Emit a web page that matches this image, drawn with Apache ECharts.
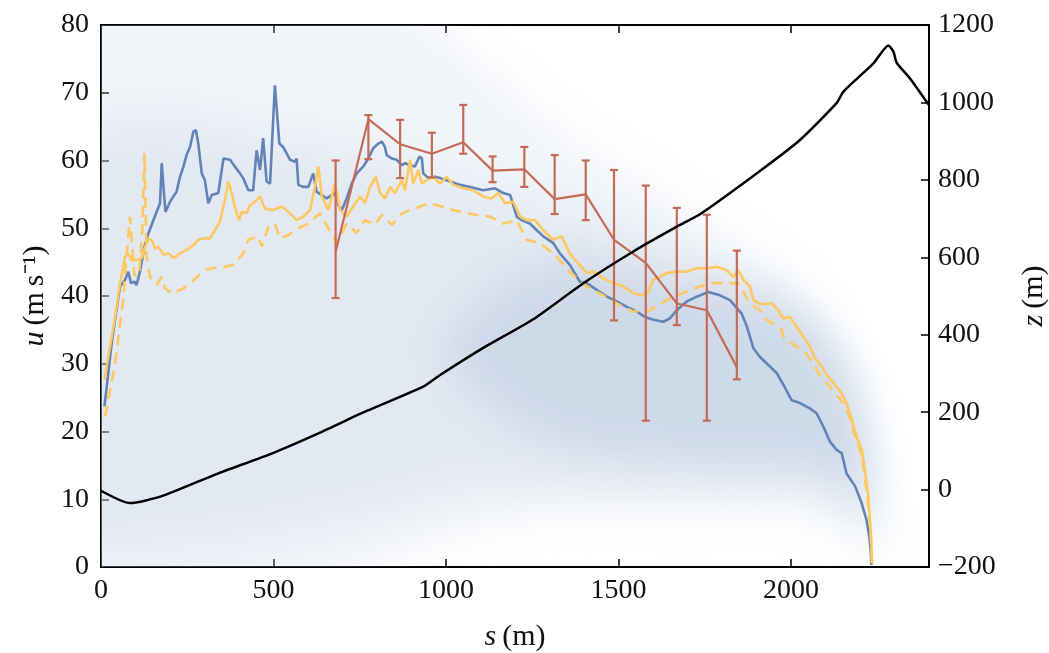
<!DOCTYPE html>
<html>
<head>
<meta charset="utf-8">
<script src="https://cdn.jsdelivr.net/npm/echarts@6/dist/echarts.min.js"></script>
<style>
  html, body { margin: 0; padding: 0; background: #fff; }
  #chart { width: 1049px; height: 653px; }
</style>
</head>
<body>
<div id="chart"></div>
<script>
// speed along the path, u (m/s) : [s, u]
const blueLine = [[10,23.7],[31,33.0],[55,41.4],[70,42.4],[79,43.6],[87,41.9],[97,42.1],[103,41.6],[113,43.6],[126,47.3],[137,49.2],[161,52.4],[171,53.7],[176,59.6],[181,56.1],[187,52.4],[200,53.9],[210,54.7],[219,55.4],[229,57.6],[239,59.1],[248,60.8],[258,62.0],[268,64.3],[275,64.5],[282,62.5],[292,58.1],[301,57.1],[311,53.7],[321,54.9],[340,55.2],[355,60.3],[374,60.1],[388,59.1],[403,58.1],[412,57.4],[427,55.6],[441,55.6],[451,61.5],[461,58.6],[470,63.3],[480,56.9],[490,56.6],[504,71.1],[509,70.9],[517,62.5],[528,62.0],[548,60.1],[562,59.8],[567,60.3],[572,56.4],[586,56.1],[601,56.1],[615,58.1],[625,55.4],[640,54.9],[654,54.4],[669,54.9],[678,55.2],[688,53.4],[698,52.7],[712,54.4],[727,56.6],[741,58.1],[760,59.1],[775,60.3],[789,61.8],[804,62.5],[814,62.8],[823,62.0],[828,60.8],[843,60.3],[857,60.1],[872,59.3],[881,59.6],[896,59.3],[910,59.1],[923,60.6],[930,60.3],[934,58.1],[949,57.4],[968,57.6],[983,57.4],[1012,56.9],[1041,56.4],[1070,56.1],[1108,55.6],[1142,55.9],[1166,55.2],[1186,54.9],[1195,53.4],[1205,51.7],[1219,51.2],[1243,50.7],[1263,49.7],[1282,48.8],[1311,47.8],[1330,46.3],[1359,44.6],[1388,42.1],[1408,41.9],[1437,40.9],[1466,39.9],[1495,39.2],[1524,38.4],[1553,37.7],[1577,36.9],[1601,36.5],[1630,36.2],[1649,36.7],[1669,37.9],[1698,39.2],[1727,39.9],[1760,40.6],[1794,40.1],[1823,39.4],[1843,38.2],[1857,37.4],[1872,35.5],[1891,32.3],[1910,31.0],[1939,29.6],[1959,28.6],[1978,26.9],[2002,24.6],[2026,24.2],[2055,23.4],[2074,22.7],[2094,20.7],[2113,18.5],[2132,17.3],[2147,16.8],[2161,13.8],[2186,11.9],[2205,9.4],[2219,6.9],[2227,4.5],[2231,2.5],[2233,0.3]];

const yellowLine = [[10,27.6],[21,31.0],[41,36.9],[55,41.9],[70,45.8],[79,46.3],[89,45.3],[103,45.3],[118,45.6],[128,47.3],[137,48.3],[147,48.3],[157,47.0],[166,47.3],[181,46.1],[195,46.3],[212,45.6],[229,46.3],[248,46.8],[268,47.5],[282,48.3],[297,48.5],[316,48.5],[330,49.7],[345,51.0],[359,54.2],[369,56.9],[379,55.2],[388,53.2],[400,51.2],[408,52.4],[422,52.2],[432,53.4],[446,53.9],[461,54.7],[475,52.9],[499,52.7],[524,53.2],[548,52.2],[567,51.2],[586,51.7],[606,52.7],[620,56.1],[630,59.1],[640,54.7],[659,52.7],[678,56.6],[693,52.7],[712,51.7],[731,53.2],[751,54.7],[765,53.7],[780,56.1],[797,57.6],[809,55.2],[823,54.4],[838,56.1],[852,55.2],[872,57.1],[881,55.6],[896,60.1],[905,56.6],[920,58.6],[930,56.6],[944,57.1],[963,57.6],[983,56.6],[1002,57.6],[1021,56.4],[1050,55.9],[1079,55.6],[1108,54.7],[1132,54.4],[1152,55.2],[1171,53.7],[1195,53.9],[1215,51.7],[1234,51.2],[1258,51.2],[1282,49.7],[1311,48.3],[1335,48.8],[1359,46.3],[1383,44.8],[1408,43.4],[1427,43.6],[1456,42.6],[1485,41.9],[1514,41.4],[1543,40.4],[1567,40.1],[1586,40.6],[1601,42.4],[1620,42.8],[1640,43.4],[1669,43.6],[1698,43.6],[1727,44.1],[1756,44.1],[1785,44.3],[1814,43.8],[1833,42.8],[1847,43.8],[1862,42.4],[1881,41.4],[1891,39.4],[1910,38.8],[1944,38.9],[1963,37.9],[1978,36.7],[1997,36.9],[2016,35.5],[2036,34.0],[2055,32.5],[2070,30.8],[2089,29.6],[2108,28.1],[2128,26.9],[2147,25.6],[2161,24.2],[2176,21.7],[2190,19.2],[2205,17.3],[2214,14.3],[2224,10.4],[2231,5.5],[2235,0.5]];

const yellowDashed = [[12,22.2],[41,30.1],[65,39.9],[74,45.8],[84,51.7],[97,43.0],[110,43.0],[120,50.0],[126,61.1],[132,45.8],[142,42.8],[161,41.6],[176,42.8],[186,41.1],[205,40.4],[239,41.1],[263,42.1],[301,43.8],[321,44.1],[359,44.3],[384,44.6],[412,46.3],[427,48.3],[456,48.8],[466,47.3],[485,50.2],[504,50.7],[519,48.5],[543,49.0],[572,50.0],[601,50.7],[635,52.2],[659,50.0],[683,47.8],[712,50.7],[741,49.3],[765,51.2],[794,50.5],[814,52.0],[843,50.5],[872,52.2],[896,52.7],[925,53.2],[949,53.7],[988,53.2],[1021,52.7],[1046,52.4],[1084,52.0],[1128,51.7],[1166,50.7],[1205,51.2],[1234,48.3],[1272,47.8],[1316,46.1],[1360,43.5],[1408,41.4],[1446,40.4],[1495,38.9],[1543,37.7],[1591,37.9],[1640,39.4],[1707,40.9],[1765,41.9],[1814,41.9],[1847,41.9],[1881,38.9],[1910,37.9],[1924,36.7],[1939,36.2],[1973,35.0],[1978,34.0],[2016,32.5],[2036,32.0],[2065,30.1],[2079,28.6],[2108,26.9],[2128,25.6],[2152,24.2],[2166,22.7],[2186,19.2],[2205,16.5],[2220,11.0],[2231,5.0],[2235,0.5]];

// measured speeds with error bars
const errS    = [680, 775, 867, 959, 1050, 1135, 1227, 1315, 1405, 1487, 1579, 1669, 1756, 1843];
const errU    = [46.5, 66.1, 62.4, 61.0, 62.7, 58.5, 58.7, 54.3, 55.0, 48.3, 44.9, 38.9, 37.9, 29.5];
const errLow  = [39.7, 60.2, 57.4, 57.5, 61.0, 56.8, 56.1, 52.1, 51.2, 36.4, 21.6, 35.7, 21.6, 27.7];
const errHigh = [60.0, 66.7, 66.0, 64.1, 68.2, 60.6, 62.0, 60.8, 60.0, 58.6, 56.3, 53.0, 52.0, 46.7];

// terrain elevation z (m) : [s, z]
const elevation = [[0,-3],[84,-35],[176,-17],[335,40],[500,95],[635,147],[770,203],[934,266],[983,296],[1108,366],[1253,440],[1398,533],[1543,615],[1669,679],[1736,711],[1910,823],[2026,903],[2132,998],[2152,1028],[2239,1101],[2282,1147],[2297,1131],[2306,1103],[2345,1062],[2400,993]];

// background spread of many runs (envelopes, faint -> dense)
const densS     = [-100, 0, 200, 400, 600, 800, 1000, 1200, 1400, 1600, 1800, 2000, 2100, 2200, 2240, 2260];
const outerLow  = [-5, -5, -5, -5, -4, 0, 4, 7, 8, 8, 8, 8, 7, 4, 1, -2];
const outerHigh = [88, 88, 88, 88, 88, 86, 79, 70, 62, 56, 49, 42, 35, 22, 6, -2];
const midLow    = [2, 2, 3, 4, 6, 8, 11, 12, 12, 12, 12, 12, 11, 8, 3, 0];
const midHigh   = [62, 65, 66, 64, 62, 60, 57, 54, 51, 48, 44, 39, 33, 22, 6, 0];
const coreS     = [1000, 1200, 1400, 1600, 1800, 2000, 2100, 2170, 2215, 2240];
const coreLow   = [30, 21, 17, 16, 15, 15, 14, 12, 8, 3];
const coreHigh  = [34, 43, 45, 43, 41, 38, 34, 29, 20, 8];

const FONT = 'Liberation Serif';
const BLUE = '#6283b8';
const YELLOW = '#ffc75f';
const RED = '#c46a55';

const bands = [
  { xs: densS, lo: outerLow, hi: outerHigh, color: 'rgba(196,210,228,0.24)', blur: 40 },
  { xs: densS, lo: midLow, hi: midHigh, color: 'rgba(196,210,228,0.30)', blur: 40 },
  { xs: coreS, lo: coreLow, hi: coreHigh, color: 'rgba(184,200,222,0.46)', blur: 38 }
];
const SHIFT = 3000; // shape drawn off-canvas, only its blurred shadow shows

const chart = echarts.init(document.getElementById('chart'));

const tickStyle = { show: true, inside: true, length: 8, lineStyle: { color: '#000', width: 1.5 } };
const lineAxis = { show: true, onZero: false, lineStyle: { color: '#000', width: 2 } };
const labelStyle = { color: '#111', fontFamily: FONT, fontSize: 28 };
const nameStyle = {
  color: '#111', fontFamily: FONT, fontSize: 30,
  rich: { i: { fontFamily: FONT, fontSize: 30, fontStyle: 'italic', color: '#111' } }
};

chart.setOption({
  animation: false,
  backgroundColor: '#fff',
  grid: {
    left: 101, right: 120, top: 25, bottom: 86,
    containLabel: false, outerBoundsMode: 'none',
    show: true, borderColor: '#000', borderWidth: 2
  },
  xAxis: [
    {
      type: 'value', min: 0, max: 2400, interval: 500, position: 'bottom',
      axisLine: lineAxis, axisTick: tickStyle, splitLine: { show: false },
      axisLabel: Object.assign({ margin: 10, showMaxLabel: false,
        formatter: v => (v % 500 === 0 ? String(v) : '') }, labelStyle),
      name: '{i|s}\u2009(m)', nameLocation: 'middle', nameGap: 55, nameTextStyle: nameStyle
    },
    {
      type: 'value', min: 0, max: 2400, interval: 500, position: 'top',
      axisLine: lineAxis, axisTick: tickStyle, axisLabel: { show: false }, splitLine: { show: false }
    }
  ],
  yAxis: [
    {
      type: 'value', min: 0, max: 80, interval: 10, position: 'left',
      axisLine: lineAxis, axisTick: tickStyle, splitLine: { show: false },
      axisLabel: Object.assign({ margin: 12 }, labelStyle),
      name: '{i|u}\u2009(m\u2009s\u207B\u00B9)', nameLocation: 'middle', nameGap: 48, nameRotate: 90,
      nameTextStyle: nameStyle
    },
    {
      type: 'value', min: -200, max: 1200, interval: 200, position: 'right',
      axisLine: lineAxis, axisTick: tickStyle, splitLine: { show: false },
      axisLabel: Object.assign({ margin: 9, formatter: v => String(v).replace('-', '\u2212') }, labelStyle),
      name: '{i|z}\u2009(m)', nameLocation: 'middle', nameGap: 90, nameRotate: 90,
      nameTextStyle: nameStyle
    }
  ],
  series: [
    {
      name: 'spread', type: 'custom', clip: true, silent: true, z: 1,
      data: bands.map((b, i) => [i]),
      renderItem: (params, api) => {
        const b = bands[api.value(0)];
        const top = b.xs.map((s, i) => api.coord([s, b.hi[i]]));
        const bottom = b.xs.map((s, i) => api.coord([s, b.lo[i]])).reverse();
        const pts = top.concat(bottom).map(p => [p[0] - SHIFT, p[1]]);
        return {
          type: 'polygon',
          shape: { points: pts, smooth: 0.35 },
          style: { fill: '#000', shadowBlur: b.blur, shadowColor: b.color, shadowOffsetX: SHIFT }
        };
      }
    },
    {
      name: 'blue', type: 'line', data: blueLine, symbol: 'none', z: 3,
      lineStyle: { color: BLUE, width: 2.6 }
    },
    {
      name: 'yellow', type: 'line', data: yellowLine, symbol: 'none', z: 4,
      lineStyle: { color: YELLOW, width: 2.6 }
    },
    {
      name: 'yellowDashed', type: 'line', data: yellowDashed, symbol: 'none', z: 4,
      lineStyle: { color: YELLOW, width: 2.6, type: [11, 7] }
    },
    {
      name: 'measured', type: 'line', data: errS.map((s, i) => [s, errU[i]]), symbol: 'none', z: 5,
      lineStyle: { color: RED, width: 2.2 }
    },
    {
      name: 'errorbars', type: 'custom', z: 5,
      data: errS.map((s, i) => [s, errLow[i], errHigh[i]]),
      renderItem: (params, api) => {
        const lo = api.coord([api.value(0), api.value(1)]);
        const hi = api.coord([api.value(0), api.value(2)]);
        const hw = 4;
        const st = { stroke: RED, lineWidth: 2.2 };
        return {
          type: 'group',
          children: [
            { type: 'line', shape: { x1: lo[0], y1: lo[1], x2: hi[0], y2: hi[1] }, style: st },
            { type: 'line', shape: { x1: lo[0] - hw, y1: lo[1], x2: lo[0] + hw, y2: lo[1] }, style: st },
            { type: 'line', shape: { x1: hi[0] - hw, y1: hi[1], x2: hi[0] + hw, y2: hi[1] }, style: st }
          ]
        };
      }
    },
    {
      name: 'elevation', type: 'line', yAxisIndex: 1, data: elevation, symbol: 'none', z: 6,
      smooth: 0.2, lineStyle: { color: '#000', width: 2.5 }
    }
  ]
});
</script>
</body>
</html>
